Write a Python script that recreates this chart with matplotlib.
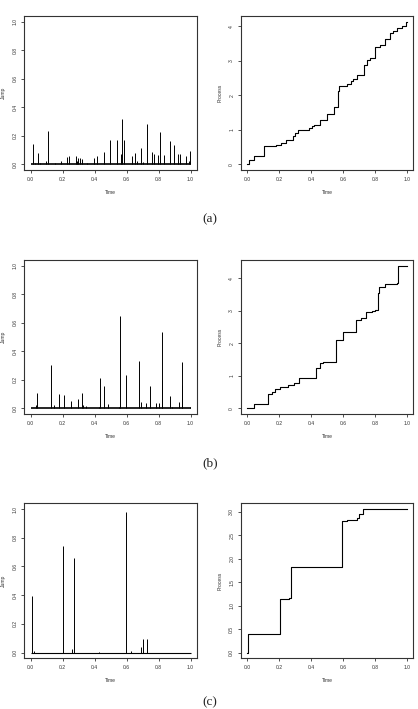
import matplotlib
matplotlib.use("Agg")
import matplotlib.pyplot as plt
import numpy as np

# ---------------- data ----------------
# (a) jumps
jump_a_t = [0.0125, 0.025, 0.044, 0.06, 0.094, 0.108, 0.15, 0.19, 0.225, 0.24, 0.285, 0.292,
            0.298, 0.308, 0.32, 0.35, 0.396, 0.4125, 0.456, 0.498, 0.542, 0.566, 0.569, 0.585,
            0.633, 0.65, 0.6625, 0.6875, 0.70, 0.729, 0.756, 0.769, 0.798, 0.81, 0.833, 0.869,
            0.898, 0.919, 0.935, 0.971, 0.9875, 0.994]
jump_a_h = [0.143, 0.01, 0.077, 0.008, 0.02, 0.237, 0.008, 0.02, 0.05, 0.058, 0.058, 0.02,
            0.047, 0.042, 0.04, 0.01, 0.042, 0.058, 0.084, 0.169, 0.169, 0.07, 0.316, 0.169,
            0.06, 0.077, 0.023, 0.115, 0.015, 0.283, 0.084, 0.073, 0.068, 0.23, 0.063, 0.164,
            0.138, 0.07, 0.07, 0.06, 0.023, 0.094]
proc_a_t = [0.0, 0.012, 0.04, 0.106, 0.18, 0.21, 0.24, 0.285, 0.30, 0.315, 0.388, 0.403,
            0.42, 0.457, 0.498, 0.543, 0.566, 0.576, 0.628, 0.65, 0.664, 0.687, 0.733, 0.754,
            0.77, 0.80, 0.83, 0.866, 0.896, 0.912, 0.94, 0.973, 0.994, 1.0]
proc_a_v = [0.0, 0.135, 0.23, 0.52, 0.57, 0.61, 0.71, 0.81, 0.91, 0.99, 1.04, 1.10,
            1.15, 1.28, 1.47, 1.66, 2.13, 2.28, 2.33, 2.40, 2.46, 2.60, 2.89, 3.01,
            3.07, 3.39, 3.46, 3.64, 3.80, 3.87, 3.94, 4.02, 4.13, 4.13]

# (b) jumps
jump_b_t = [0.033, 0.04, 0.125, 0.148, 0.179, 0.208, 0.254, 0.294, 0.323, 0.328, 0.344, 0.425,
            0.433, 0.46, 0.481, 0.555, 0.558, 0.598, 0.679, 0.692, 0.719, 0.746, 0.781, 0.802,
            0.821, 0.823, 0.869, 0.881, 0.927, 0.946, 0.948, 0.998]
jump_b_h = [0.02, 0.108, 0.307, 0.02, 0.099, 0.092, 0.049, 0.063, 0.106, 0.025, 0.019, 0.01,
            0.211, 0.155, 0.028, 0.012, 0.646, 0.237, 0.329, 0.045, 0.04, 0.157, 0.035, 0.035,
            0.538, 0.2, 0.087, 0.01, 0.042, 0.16, 0.322, 0.012]
proc_b_t = [0.0, 0.033, 0.044, 0.127, 0.154, 0.175, 0.204, 0.253, 0.29, 0.322, 0.432, 0.455,
            0.478, 0.557, 0.599, 0.683, 0.712, 0.745, 0.783, 0.80, 0.821, 0.824, 0.866, 0.94,
            0.948, 1.0]
proc_b_v = [0.0, 0.02, 0.135, 0.445, 0.49, 0.58, 0.66, 0.71, 0.77, 0.92, 1.23, 1.385,
            1.44, 2.11, 2.36, 2.71, 2.78, 2.96, 2.99, 3.02, 3.55, 3.73, 3.83, 3.87,
            4.39, 4.39]

# (c) jumps
jump_c_t = [0.006, 0.02, 0.204, 0.26, 0.273, 0.43, 0.594, 0.625, 0.6875, 0.704, 0.725]
jump_c_h = [0.391, 0.01, 0.742, 0.023, 0.658, 0.005, 0.977, 0.01, 0.04, 0.096, 0.096]
proc_c_t = [0.0, 0.006, 0.204, 0.26, 0.273, 0.594, 0.625, 0.6875, 0.704, 0.725, 1.0]
proc_c_v = [0.0, 0.395, 1.15, 1.17, 1.83, 2.81, 2.82, 2.86, 2.96, 3.06, 3.06]

x_ticks = [0.0, 0.2, 0.4, 0.6, 0.8, 1.0]
jump_ticks = [0.0, 0.2, 0.4, 0.6, 0.8, 1.0]
proc_ticks_ab = [0, 1, 2, 3, 4]
proc_ticks_c = [0.0, 0.5, 1.0, 1.5, 2.0, 2.5, 3.0]
captions = ["(a)", "(b)", "(c)"]

# ---------------- figure ----------------
W, H = 418, 709
fig = plt.figure(figsize=(W / 100, H / 100), dpi=100)
fig.patch.set_facecolor("white")

FS = 3.6
TICKFONT = "Liberation Sans"
BOXC = "#333333"


def px_axes(x0, y0, x1, y1):
    return fig.add_axes([x0 / W, 1 - y1 / H, (x1 - x0) / W, (y1 - y0) / H])


def style(ax, yticks, ylab, yfmt):
    ax.set_xlim(-0.04, 1.04)
    ax.set_xticks(x_ticks)
    ax.set_xticklabels([f"{v:.1f}" for v in x_ticks])
    ax.set_yticks(yticks)
    ax.set_yticklabels([yfmt(v) for v in yticks], rotation=90, va="center")
    for s in ax.spines.values():
        s.set_color(BOXC)
        s.set_linewidth(0.8)
    ax.tick_params(direction="out", length=3.3 * 0.72, width=0.6, color=BOXC,
                   labelsize=FS, labelcolor="#333333", pad=2.5)
    for lab in ax.get_xticklabels() + ax.get_yticklabels():
        lab.set_fontfamily(TICKFONT)
    ax.set_xlabel("Time", fontsize=FS, family=TICKFONT, color="#333333", labelpad=6)
    ax.set_ylabel(ylab, fontsize=FS, family=TICKFONT, color="#333333", labelpad=5)


rows = [
    (16, 170, jump_a_t, jump_a_h, proc_a_t, proc_a_v, proc_ticks_ab, 1.2),
    (260, 414, jump_b_t, jump_b_h, proc_b_t, proc_b_v, proc_ticks_ab, 1.2),
    (503.3, 658.3, jump_c_t, jump_c_h, proc_c_t, proc_c_v, proc_ticks_c, 0.8),
]
cap_y = [219.3, 463.3, 702.5]

for i, (top, bot, jt, jh, pt, pv, pticks, blw) in enumerate(rows):
    axl = px_axes(24.3, top, 197, bot)
    axl.hlines(0, 0.0, 1.0, color="black", lw=blw)
    axl.vlines(jt, 0, jh, color="black", lw=0.7)
    axl.set_ylim(-0.04, 1.04)
    style(axl, jump_ticks, "Jump", lambda v: f"{v:.1f}")

    axr = px_axes(241, top, 413, bot)
    axr.step(pt, pv, where="post", color="black", lw=0.8)
    vmax = max(pv)
    axr.set_ylim(-0.04 * vmax, 1.04 * vmax)
    if i < 2:
        fmt = lambda v: f"{v:d}"
    else:
        fmt = lambda v: f"{v:.1f}"
    style(axr, pticks, "Process", fmt)

    fig.text(210 / W, 1 - cap_y[i] / H, captions[i], ha="center", va="center",
             fontsize=9.5, family="Liberation Serif", color="#222222")

fig.savefig("out.png", dpi=100, facecolor="white")
